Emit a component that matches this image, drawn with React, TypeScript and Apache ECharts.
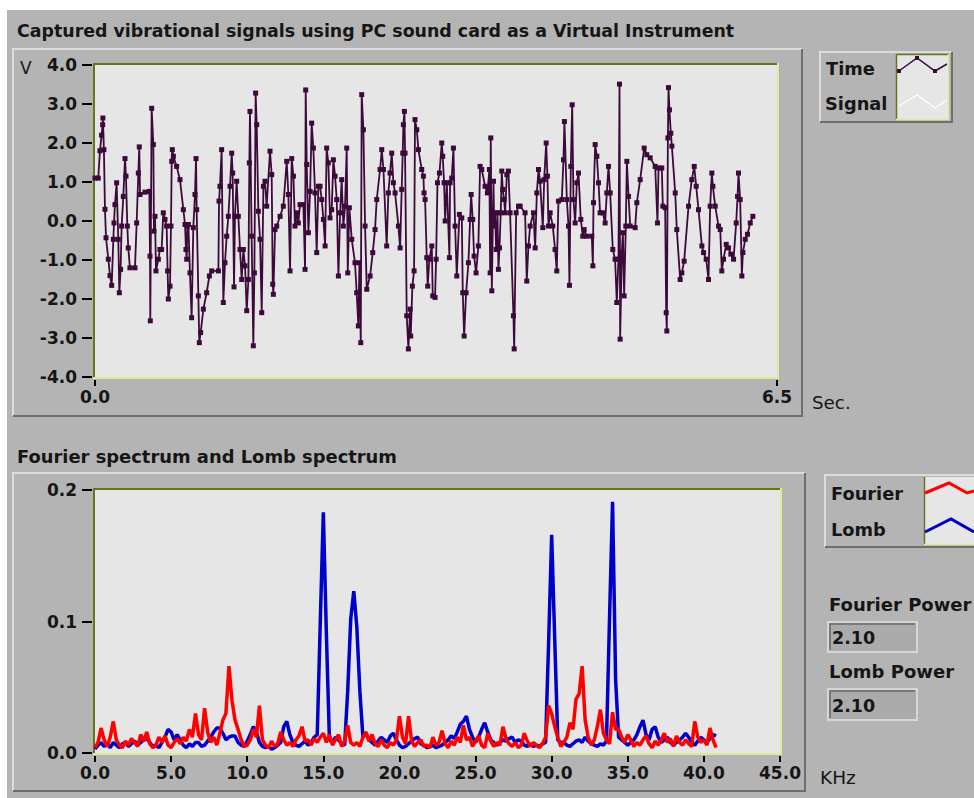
import React, { useEffect, useRef } from "react";
import * as echarts from "echarts";

// ---- Top chart: captured vibrational signal (time in s, amplitude in V) ----
const signalTime = [
  0.000,0.031,0.047,0.063,0.073,0.075,0.085,0.095,0.105,0.127,
  0.143,0.159,0.175,0.181,0.190,0.206,0.222,0.232,0.244,0.254,
  0.270,0.286,0.295,0.308,0.317,0.333,0.381,0.397,0.413,0.422,
  0.429,0.476,0.518,0.524,0.527,0.540,0.556,0.562,0.572,0.581,
  0.604,0.619,0.635,0.651,0.667,0.683,0.692,0.699,0.715,0.724,
  0.731,0.737,0.747,0.778,0.810,0.842,0.858,0.867,0.874,0.880,
  0.890,0.905,0.921,0.937,0.953,0.963,0.969,0.985,0.994,1.007,
  1.033,1.064,1.090,1.112,1.176,1.182,1.191,1.207,1.223,1.239,
  1.255,1.271,1.287,1.303,1.312,1.325,1.334,1.350,1.366,1.382,
  1.398,1.414,1.430,1.446,1.462,1.471,1.477,1.493,1.509,1.519,
  1.531,1.541,1.557,1.573,1.589,1.605,1.620,1.636,1.668,1.684,
  1.694,1.700,1.716,1.732,1.764,1.795,1.827,1.843,1.859,1.875,
  1.891,1.906,1.922,1.938,1.954,1.986,2.002,2.008,2.018,2.034,
  2.050,2.065,2.081,2.097,2.113,2.129,2.145,2.161,2.177,2.193,
  2.208,2.224,2.240,2.256,2.272,2.288,2.304,2.320,2.336,2.351,
  2.367,2.383,2.399,2.409,2.424,2.447,2.478,2.494,2.510,2.520,
  2.533,2.542,2.558,2.574,2.590,2.622,2.647,2.669,2.685,2.717,
  2.733,2.749,2.780,2.796,2.812,2.828,2.844,2.860,2.892,2.908,
  2.923,2.933,2.939,2.949,2.955,2.971,2.987,3.003,3.009,3.025,
  3.041,3.050,
  3.067,3.082,3.114,3.130,3.136,3.146,3.162,3.171,3.187,3.210,
  3.219,3.241,3.251,3.264,3.283,3.305,3.314,3.327,3.337,3.353,
  3.378,3.384,3.400,3.416,3.432,3.448,3.473,3.496,3.505,3.518,
  3.537,3.559,3.575,3.585,3.600,3.613,3.632,3.654,3.670,3.686,
  3.718,3.740,3.759,3.766,3.772,3.782,3.798,3.804,3.813,3.823,
  3.836,3.845,3.855,3.867,3.877,3.886,3.899,3.909,3.925,3.940,
  3.956,3.988,3.995,4.014,4.036,4.052,4.099,4.115,4.131,4.147,
  4.179,4.195,4.211,4.227,4.242,4.268,4.281,4.300,4.312,4.322,
  4.338,4.363,4.385,4.401,4.417,4.449,4.465,4.474,4.497,4.513,
  4.522,4.535,4.548,4.560,4.576,4.592,4.608,4.630,4.649,4.662,
  4.687,4.735,4.745,4.751,4.767,4.783,4.799,4.814,4.840,4.862,
  4.878,4.894,4.910,4.935,4.957,4.973,4.989,4.999,5.005,5.021,
  5.031,5.043,5.059,5.069,5.085,5.101,5.148,5.164,5.196,5.234,
  5.259,5.291,5.339,5.361,5.371,5.402,5.412,5.434,5.444,5.450,
  5.460,5.466,5.475,5.488,5.498,5.530,5.545,5.577,5.593,5.615,
  5.657,5.688,5.711,5.730,5.752,5.784,5.800,5.825,5.847,5.863,
  5.879,5.889,5.911,5.943,5.959,5.974,5.990,6.016,6.038,6.060,
  6.086,6.111,6.124,6.133,6.149,6.165,6.175,6.197,6.219,6.245,
  6.270,
];

const signalVolts = [
  1.10,1.10,1.80,2.20,2.47,2.64,1.83,0.30,-0.43,-0.98,
  -1.40,-1.65,-0.47,-0.05,0.42,0.98,-0.47,-1.84,-1.24,-0.13,
  0.63,1.60,1.15,-0.13,-0.69,-1.20,-1.20,-0.05,1.23,1.90,
  0.68,0.74,0.76,-0.90,-2.56,2.89,1.96,-0.26,0.12,-1.28,
  -0.98,-0.73,-0.73,0.21,0.04,-0.13,-1.28,-2.00,-1.67,-0.13,
  1.53,1.83,1.66,1.40,1.06,0.29,-0.09,-0.73,-0.98,-0.13,
  -0.09,-1.33,-2.48,-0.17,0.68,1.60,0.29,-1.92,-3.12,-2.86,
  -2.26,-1.84,-1.41,-1.28,-1.28,0.51,0.89,1.83,-2.09,-1.07,
  -0.39,0.12,0.89,1.74,1.23,-1.69,0.12,1.02,0.12,-0.73,
  -1.50,-0.73,-1.15,-2.30,-1.50,1.49,2.81,-0.39,-3.20,-1.33,
  3.28,2.47,0.25,-0.47,-2.35,0.89,1.02,0.38,1.79,1.19,
  -1.62,-1.88,-0.22,-0.13,0.12,0.38,1.53,0.68,-1.28,1.60,
  1.15,-0.13,0.21,-0.05,0.42,0.42,-1.24,3.36,1.45,-0.30,
  0.76,2.51,1.87,0.72,-0.81,0.89,0.89,0.55,0.04,-0.64,
  1.87,1.49,0.08,0.29,1.57,1.15,0.55,-1.41,0.21,1.06,
  -0.13,0.38,1.87,-1.33,0.34,-0.47,-1.07,-1.84,-2.69,-1.07,
  -3.12,3.24,2.34,-0.13,-1.75,-1.41,-0.81,-0.22,0.55,1.32,
  1.83,1.32,-0.64,0.72,1.23,1.74,0.98,0.72,-0.13,-0.69,
  0.81,1.74,2.47,2.81,1.74,-2.43,-3.28,-2.26,-2.95,-1.67,
  -1.28,2.60,
  2.34,1.83,1.32,1.15,0.72,0.55,-0.94,-1.67,-0.98,-0.64,
  -1.92,-1.96,-0.98,0.98,1.23,2.00,1.66,0.98,0.00,0.98,
  -0.94,0.98,1.10,1.87,-0.13,-1.41,0.17,0.08,-1.84,-2.95,
  -1.84,-1.07,0.04,0.68,0.04,-0.90,-1.33,-0.64,1.40,1.32,
  0.89,0.72,1.32,-1.33,2.13,-1.79,1.02,-0.13,0.21,-0.73,
  0.21,-1.24,-0.69,0.21,1.28,0.81,0.55,0.21,1.19,1.28,
  0.21,-2.43,-3.28,0.21,0.38,0.38,0.21,-1.54,-0.64,-0.13,
  0.21,-0.69,0.72,1.32,1.02,-0.17,1.06,2.00,1.15,-0.13,
  0.21,-0.13,-0.73,-1.28,0.51,0.55,1.57,2.55,0.55,-0.13,
  -1.65,1.40,2.98,0.55,-0.05,0.98,1.23,0.04,-0.39,-0.22,
  -0.39,-0.39,-1.15,0.47,1.96,1.66,0.98,0.21,0.21,-0.05,
  0.72,1.40,0.72,-0.73,-0.98,-2.09,-0.98,3.51,-3.03,-0.81,
  -0.30,-1.92,-0.13,1.53,0.63,-0.13,-0.17,0.47,1.06,1.87,
  1.70,1.62,1.40,-0.05,1.36,1.36,0.38,0.34,-2.35,-2.82,
  2.13,3.42,2.85,2.25,1.92,0.72,-0.22,-1.50,-1.33,-1.03,
  0.38,1.06,1.40,0.89,0.29,-0.64,-0.81,-0.98,-1.50,0.38,
  1.23,0.89,0.38,-0.13,-0.22,-1.28,-0.98,-0.60,-0.69,-0.85,
  -0.98,-0.05,0.63,1.23,0.55,-1.41,-0.81,-0.47,-0.34,-0.05,
  0.12,
];

// ---- Bottom chart: spectra sampled every 0.2 kHz from 0 to 40.8 kHz ----
const freqStepKHz = 0.2;

const fourierPower = [
  0.004,0.008,0.019,0.010,0.005,0.012,0.024,0.010,0.006,0.004,
  0.009,0.006,0.011,0.008,0.005,0.014,0.009,0.016,0.007,0.004,
  0.006,0.012,0.008,0.013,0.006,0.004,0.008,0.011,0.007,0.012,
  0.009,0.018,0.012,0.030,0.014,0.010,0.034,0.016,0.008,0.012,
  0.006,0.015,0.025,0.030,0.066,0.040,0.025,0.018,0.010,0.005,
  0.006,0.010,0.018,0.012,0.036,0.010,0.006,0.004,0.009,0.005,
  0.007,0.016,0.010,0.006,0.008,0.005,0.010,0.013,0.020,0.009,
  0.010,0.006,0.011,0.008,0.012,0.015,0.008,0.014,0.006,0.010,
  0.014,0.005,0.009,0.021,0.008,0.006,0.008,0.005,0.012,0.016,
  0.009,0.014,0.007,0.005,0.010,0.006,0.004,0.008,0.006,0.010,
  0.028,0.012,0.007,0.028,0.009,0.005,0.008,0.010,0.005,0.006,
  0.004,0.012,0.006,0.008,0.017,0.007,0.004,0.009,0.006,0.012,
  0.008,0.021,0.010,0.012,0.005,0.009,0.013,0.006,0.004,0.015,
  0.009,0.005,0.008,0.006,0.020,0.011,0.007,0.005,0.008,0.004,
  0.006,0.015,0.009,0.005,0.008,0.006,0.004,0.007,0.012,0.036,
  0.030,0.020,0.012,0.005,0.008,0.012,0.023,0.018,0.041,0.045,
  0.066,0.025,0.012,0.006,0.010,0.020,0.033,0.015,0.010,0.007,
  0.031,0.018,0.018,0.012,0.008,0.014,0.010,0.005,0.008,0.006,
  0.010,0.013,0.007,0.004,0.009,0.006,0.010,0.015,0.008,0.011,
  0.005,0.013,0.008,0.006,0.010,0.007,0.005,0.024,0.012,0.008,
  0.010,0.006,0.019,0.010,0.004,
];

const lombPower = [
  0.003,0.006,0.008,0.005,0.007,0.004,0.008,0.006,0.004,0.007,
  0.008,0.005,0.007,0.009,0.006,0.008,0.010,0.011,0.008,0.005,
  0.006,0.004,0.008,0.012,0.018,0.016,0.010,0.014,0.010,0.006,
  0.004,0.007,0.005,0.008,0.008,0.005,0.006,0.009,0.012,0.016,
  0.019,0.019,0.015,0.010,0.012,0.013,0.013,0.008,0.006,0.005,
  0.009,0.014,0.020,0.016,0.008,0.005,0.004,0.005,0.003,0.004,
  0.006,0.008,0.020,0.024,0.014,0.008,0.006,0.005,0.007,0.009,
  0.006,0.008,0.012,0.014,0.100,0.183,0.091,0.010,0.008,0.012,
  0.010,0.007,0.006,0.047,0.102,0.123,0.096,0.047,0.012,0.015,
  0.010,0.008,0.006,0.009,0.012,0.010,0.008,0.013,0.015,0.010,
  0.006,0.004,0.005,0.007,0.009,0.011,0.012,0.007,0.006,0.004,
  0.005,0.006,0.004,0.005,0.006,0.008,0.010,0.013,0.011,0.016,
  0.022,0.024,0.028,0.018,0.012,0.008,0.012,0.018,0.023,0.016,
  0.010,0.008,0.006,0.008,0.010,0.009,0.011,0.012,0.008,0.010,
  0.009,0.006,0.005,0.007,0.005,0.006,0.005,0.007,0.008,0.084,
  0.166,0.087,0.010,0.008,0.008,0.006,0.005,0.007,0.009,0.010,
  0.008,0.012,0.009,0.007,0.006,0.005,0.007,0.006,0.009,0.102,
  0.191,0.056,0.012,0.010,0.008,0.006,0.008,0.010,0.014,0.020,
  0.025,0.014,0.010,0.018,0.020,0.012,0.008,0.010,0.012,0.008,
  0.006,0.008,0.010,0.012,0.015,0.012,0.008,0.006,0.009,0.012,
  0.010,0.008,0.011,0.014,0.013,
];

const fourierPowerReadout = "2.10";
const lombPowerReadout = "2.10";

const FONT = "'DejaVu Sans', Verdana, sans-serif";
const TXT = "#161616";
const PANEL = "#b4b4b4";
const PLOT_BG = "#e6e6e6";
const OLIVE = "#62761c";
const PALE = "#dcec9e";
const LIGHT_EDGE = "#dcdcdc";
const DARK_EDGE = "#6e6e6e";
const SIGNAL_COLOR = "#3c0a3a";

const boldFont = (s: number) => `bold ${s}px ${FONT}`;
const normFont = (s: number) => `${s}px ${FONT}`;

function txt(x: number, y: number, text: string, font: string, align = "left") {
  return {
    type: "text",
    x,
    y,
    style: { text, font, fill: TXT, textAlign: align, textVerticalAlign: "middle" },
  };
}
function ln(x1: number, y1: number, x2: number, y2: number, stroke: string, lineWidth = 2) {
  return { type: "line", shape: { x1, y1, x2, y2 }, style: { stroke, lineWidth } };
}
function pl(points: number[][], stroke: string, lineWidth = 2) {
  return { type: "polyline", shape: { points }, style: { stroke, lineWidth, fill: null } };
}
function raisedBox(x1: number, y1: number, x2: number, y2: number) {
  return [
    pl([[x1, y2], [x1, y1], [x2, y1]], LIGHT_EDGE, 2),
    pl([[x1, y2], [x2, y2], [x2, y1]], DARK_EDGE, 2),
  ];
}
function plotFrame(x1: number, y1: number, x2: number, y2: number) {
  return [
    ln(x1 - 1, y1, x2 + 1, y1, OLIVE, 2),
    ln(x1, y1 - 1, x1, y2 + 1, OLIVE, 2),
    ln(x1 - 1, y2, x2 + 1, y2, PALE, 2),
    ln(x2, y1 - 1, x2, y2 + 1, PALE, 2),
  ];
}
function readoutBox(x: number, y: number, w: number, h: number, value: string) {
  return [
    { type: "rect", shape: { x, y, width: w, height: h }, style: { fill: "#ababab", stroke: "#d6d6d6", lineWidth: 2 } },
    pl([[x + 2, y + h - 2], [x + 2, y + 2], [x + w - 2, y + 2]], "#6a6a6a", 1.5),
    txt(x + 4, y + h / 2 + 1, value, boldFont(17.5)),
  ];
}

export default function App() {
  const ref = useRef<HTMLDivElement>(null);

  useEffect(() => {
    if (!ref.current) return;
    const chart = echarts.init(ref.current, undefined, { renderer: "svg" });

    const signalData = signalTime.map((t, i) => [t, signalVolts[i]]);
    const fourierData = fourierPower.map((v, i) => [+(i * freqStepKHz).toFixed(1), v]);
    const lombData = lombPower.map((v, i) => [+(i * freqStepKHz).toFixed(1), v]);

    const axisLabel = (margin: number) => ({
      margin,
      fontWeight: "bold",
      fontSize: 17,
      fontFamily: FONT,
      color: TXT,
      formatter: (v: number) => v.toFixed(1),
    });
    const tick = (length: number) => ({ show: true, length, lineStyle: { color: "#000000", width: 2 } });
    const hiddenLine = { show: true, onZero: false, lineStyle: { color: "rgba(0,0,0,0)", width: 1 } };

    const graphics: any[] = [
      { type: "rect", shape: { x: 0, y: 0, width: 974, height: 10 }, style: { fill: "#ffffff" } },
      { type: "rect", shape: { x: 0, y: 0, width: 7, height: 798 }, style: { fill: "#ffffff" } },
      // top panel
      txt(17, 31, "Captured vibrational signals using PC sound card as a Virtual Instrument", boldFont(17.4)),
      ...raisedBox(13, 49, 802, 416),
      ...plotFrame(94, 64, 778, 378),
      txt(20, 68, "V", normFont(17)),
      txt(812, 402, "Sec.", normFont(18.3)),
      // top legend
      ...raisedBox(820, 52, 952, 122),
      { type: "rect", shape: { x: 896, y: 54, width: 53, height: 66 }, style: { fill: PLOT_BG } },
      ln(896.5, 54, 896.5, 120, OLIVE, 1.5),
      ln(896, 54.5, 949, 54.5, OLIVE, 1.5),
      ln(948.5, 54, 948.5, 120, PALE, 1.5),
      ln(896, 119.5, 949, 119.5, PALE, 1.5),
      pl([[899, 71], [917, 58], [935, 71], [947, 64]], SIGNAL_COLOR, 1.5),
      { type: "rect", shape: { x: 897, y: 69, width: 4, height: 4 }, style: { fill: SIGNAL_COLOR } },
      { type: "rect", shape: { x: 915, y: 56, width: 4, height: 4 }, style: { fill: SIGNAL_COLOR } },
      { type: "rect", shape: { x: 933, y: 69, width: 4, height: 4 }, style: { fill: SIGNAL_COLOR } },
      pl([[899, 106], [917, 95], [935, 108], [947, 100]], "#ffffff", 1.2),
      txt(826, 68, "Time", boldFont(17.8)),
      txt(825, 103, "Signal", boldFont(17.8)),
      // bottom panel
      txt(17, 456, "Fourier spectrum and Lomb spectrum", boldFont(17.9)),
      ...raisedBox(13, 473, 805, 791),
      ...plotFrame(94, 489, 781, 754),
      txt(820, 777, "KHz", normFont(18.5)),
      // bottom legend
      ...raisedBox(825, 475, 990, 547),
      { type: "rect", shape: { x: 924, y: 477, width: 60, height: 68 }, style: { fill: PLOT_BG } },
      ln(924.5, 477, 924.5, 545, OLIVE, 1.5),
      ln(924, 544.5, 984, 544.5, PALE, 1.5),
      pl([[925, 493], [949, 483], [967, 493], [974, 491]], "#ff0000", 3),
      pl([[925, 532], [951, 519], [974, 532]], "#0000cc", 3),
      txt(831, 493, "Fourier", boldFont(17.8)),
      txt(831, 529, "Lomb", boldFont(17.8)),
      txt(829, 604, "Fourier Power", boldFont(18)),
      ...readoutBox(828, 622, 89, 30, fourierPowerReadout),
      txt(829, 671, "Lomb Power", boldFont(18)),
      ...readoutBox(828, 689, 89, 31, lombPowerReadout),
    ];

    chart.setOption({
      animation: false,
      backgroundColor: PANEL,
      grid: [
        { left: 95, top: 65, width: 682, height: 312, show: true, backgroundColor: PLOT_BG, borderWidth: 0 },
        { left: 95, top: 490, width: 685, height: 263, show: true, backgroundColor: PLOT_BG, borderWidth: 0 },
      ],
      xAxis: [
        {
          type: "value", gridIndex: 0, min: 0, max: 6.5, interval: 6.5, offset: 3,
          axisLine: hiddenLine, axisTick: tick(6), axisLabel: axisLabel(8), splitLine: { show: false },
        },
        {
          type: "value", gridIndex: 1, min: 0, max: 45, interval: 5, offset: 3,
          axisLine: hiddenLine, axisTick: tick(6), axisLabel: axisLabel(8), splitLine: { show: false },
        },
      ],
      yAxis: [
        {
          type: "value", gridIndex: 0, min: -4, max: 4, interval: 1, offset: 3,
          axisLine: hiddenLine, axisTick: tick(10), axisLabel: axisLabel(15), splitLine: { show: false },
        },
        {
          type: "value", gridIndex: 1, min: 0, max: 0.2, interval: 0.1, offset: 3,
          axisLine: hiddenLine, axisTick: tick(10), axisLabel: axisLabel(15), splitLine: { show: false },
        },
      ],
      graphic: { elements: graphics },
      series: [
        {
          type: "line", name: "Time Signal", xAxisIndex: 0, yAxisIndex: 0, data: signalData,
          symbol: "rect", symbolSize: 5, showAllSymbol: true, silent: true,
          lineStyle: { color: SIGNAL_COLOR, width: 1.8 }, itemStyle: { color: SIGNAL_COLOR },
        },
        {
          type: "line", name: "Lomb", xAxisIndex: 1, yAxisIndex: 1, data: lombData,
          showSymbol: false, silent: true, lineStyle: { color: "#0000cc", width: 3.5 },
        },
        {
          type: "line", name: "Fourier", xAxisIndex: 1, yAxisIndex: 1, data: fourierData,
          showSymbol: false, silent: true, lineStyle: { color: "#ff0000", width: 3.5 },
        },
      ],
    });

    return () => chart.dispose();
  }, []);

  return (
    <div
      ref={ref}
      style={{ position: "absolute", left: 0, top: 0, width: 974, height: 798 }}
    />
  );
}
